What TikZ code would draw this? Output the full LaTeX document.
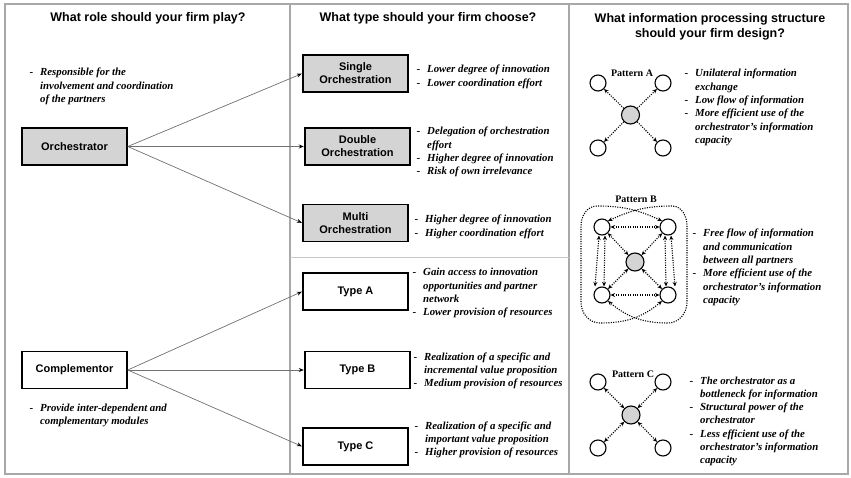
\documentclass[tikz,border=0pt]{standalone}
\usepackage{fontspec}
\setmainfont{Liberation Serif}
\newfontfamily\headfont{Liberation Sans}
\usetikzlibrary{arrows.meta}

\definecolor{boxgray}{HTML}{D4D4D4}
\definecolor{linkgray}{HTML}{707070}
\definecolor{framegray}{HTML}{A8A8A8}
\definecolor{rulegray}{HTML}{C8C8C8}

% leading dash of a bullet item, hung into the left margin
\newcommand\dashitem{\leavevmode\llap{\upshape -\hspace{7pt}}}
% a block of lines whose baseline is that of its first line
\newcommand\notelines[1]{\parbox[t]{170pt}{\raggedright #1}}
\newcommand\headlines[1]{\parbox[t]{270pt}{\centering #1}}

\tikzset{
  title/.style={font=\headfont\bfseries\fontsize{12.5}{15}\selectfont, anchor=base, inner sep=0pt},
  rolebox/.style={draw=black, line width=1.5pt, minimum width=105pt, minimum height=37pt, inner sep=0pt,
    font=\headfont\bfseries\fontsize{11}{13}\selectfont, align=center, fill=white},
  shaded/.style={rolebox, fill=boxgray},
  note/.style={font=\bfseries\itshape\fontsize{10.8}{13.3}\selectfont, anchor=base west, inner sep=0pt},
  link/.style={draw=linkgray, line width=0.7pt, -{Stealth[length=5pt,width=4pt,color=black]}, shorten >=0.5pt},
  member/.style={circle, draw=black, line width=1.1pt, fill=white, minimum size=16pt, inner sep=0pt},
  hub/.style={circle, draw=black, line width=1.1pt, fill=boxgray, minimum size=18pt, inner sep=0pt},
  plabel/.style={font=\bfseries\fontsize{10}{12}\selectfont, anchor=base, inner sep=0pt},
  flow/.style={line width=1.1pt, dash pattern=on 1.1pt off 1.3pt, line cap=butt},
  tipin/.style={flow, -{Stealth[length=4.5pt,width=4pt]}},
  tipboth/.style={flow, {Stealth[length=4.5pt,width=4pt]}-{Stealth[length=4.5pt,width=4pt]}},
  panel/.style={draw=framegray, line width=1.2pt},
}

\begin{document}
\begin{tikzpicture}[x=1pt, y=-1pt]
\useasboundingbox (0,0) rectangle (851,478);

% panels
\draw[panel] (5,4) rectangle (848,474);
\draw[panel] (290,4) -- (290,474);
\draw[panel] (569,4) -- (569,474);
\draw[draw=rulegray, line width=0.8pt] (290,257) -- (569,257);

% column headings
\node[title] (h1) at (148,22) {What role should your firm play?};
\node[title] (h2) at (428,22) {What type should your firm choose?};
\node[title] (h3) at (710,23) {\headlines{What information processing structure\\should your firm design?}};

% roles
\node[shaded] (orch) at (74.5,146.5) {Orchestrator};
\node[rolebox] (comp) at (74.5,370) {Complementor};
\node[note] (orchnote) at (40,76) {\notelines{\dashitem Responsible for the\\involvement and coordination\\of the partners}};
\node[note] (compnote) at (40,411) {\notelines{\dashitem Provide inter-dependent and\\complementary modules}};

% types
\node[shaded] (single) at (355.5,73.5) {Single\\Orchestration};
\node[shaded] (double) at (357.5,146.5) {Double\\Orchestration};
\node[shaded] (multi) at (355.5,223) {Multi\\Orchestration};
\node[rolebox] (typea) at (355.5,291.5) {Type A};
\node[rolebox] (typeb) at (357.5,370) {Type B};
\node[rolebox] (typec) at (355.5,446.5) {Type C};

\draw[link] (orch.east) -- (single.west);
\draw[link] (orch.east) -- (double.west);
\draw[link] (orch.east) -- (multi.west);
\draw[link] (comp.east) -- (typea.west);
\draw[link] (comp.east) -- (typeb.west);
\draw[link] (comp.east) -- (typec.west);

\node[note] (singlenote) at (427,73) {\notelines{\dashitem Lower degree of innovation\\\dashitem Lower coordination effort}};
\node[note] (doublenote) at (427,135) {\notelines{\dashitem Delegation of orchestration\\effort\\\dashitem Higher degree of innovation\\\dashitem Risk of own irrelevance}};
\node[note] (multinote) at (425,223) {\notelines{\dashitem Higher degree of innovation\\\dashitem Higher coordination effort}};
\node[note] (typeanote) at (423,276) {\notelines{\dashitem Gain access to innovation\\opportunities and partner\\network\\\dashitem Lower provision of resources}};
\node[note] (typebnote) at (424,360) {\notelines{\dashitem Realization of a specific and\\incremental value proposition\\\dashitem Medium provision of resources}};
\node[note] (typecnote) at (425,429) {\notelines{\dashitem Realization of a specific and\\important value proposition\\\dashitem Higher provision of resources}};

% pattern A: one-way flow from the orchestrator
\node[member] (a1) at (598,83) {};
\node[member] (a2) at (663,83) {};
\node[hub] (a0) at (630.5,115) {};
\node[member] (a3) at (598,148) {};
\node[member] (a4) at (663,148) {};
\node[plabel] (alab) at (632,77) {Pattern A};
\foreach \n in {a1,a2,a3,a4} \draw[tipin] (a0) -- (\n);
\node[note] (anote) at (695,77) {\notelines{\dashitem Unilateral information\\exchange\\\dashitem Low flow of information\\\dashitem More efficient use of the\\orchestrator's information\\capacity}};

% pattern B: every partner linked with every other
\node[member] (b1) at (602,227) {};
\node[member] (b2) at (668,227) {};
\node[hub] (b0) at (635,262) {};
\node[member] (b3) at (602,295) {};
\node[member] (b4) at (668,295) {};
\node[plabel] (blab) at (636,203) {Pattern B};
\foreach \n in {b1,b2,b3,b4} \draw[tipboth] (b0) -- (\n);
\draw[tipboth] (b1) -- (b2);
\draw[tipboth] (b3) -- (b4);
\draw[tipboth] ([xshift=-3pt]b1.south) -- ([xshift=-7pt]b3.north);
\draw[tipboth] ([xshift=3pt]b1.south) -- ([xshift=2pt]b3.north);
\draw[tipboth] ([xshift=-3pt]b2.south) -- ([xshift=-2pt]b4.north);
\draw[tipboth] ([xshift=3pt]b2.south) -- ([xshift=7pt]b4.north);
\draw[tipboth] (b1.north east) to[out=25,in=180] (672,206) to[out=0,in=90] (687,226)
  -- (687,302) to[out=-90,in=0] (668,323) to[out=180,in=-40] (b3.south east);
\draw[tipboth] (b2.north west) to[out=155,in=0] (597,206) to[out=180,in=90] (581,226)
  -- (581,302) to[out=-90,in=180] (600,323) to[out=0,in=-140] (b4.south west);
\node[note] (bnote) at (703,237) {\notelines{\dashitem Free flow of information\\and communication\\between all partners\\\dashitem More efficient use of the\\orchestrator's information\\capacity}};

% pattern C: all flows pass through the orchestrator
\node[member] (c1) at (598,382) {};
\node[member] (c2) at (663,382) {};
\node[hub] (c0) at (631,415) {};
\node[member] (c3) at (598,448) {};
\node[member] (c4) at (663,448) {};
\node[plabel] (clab) at (633,377) {Pattern C};
\foreach \n in {c1,c2,c3,c4} \draw[tipboth] (c0) -- (\n);
\node[note] (cnote) at (700,384) {\notelines{\dashitem The orchestrator as a\\bottleneck for information\\\dashitem Structural power of the\\orchestrator\\\dashitem Less efficient use of the\\orchestrator's information\\capacity}};

\end{tikzpicture}
\end{document}
